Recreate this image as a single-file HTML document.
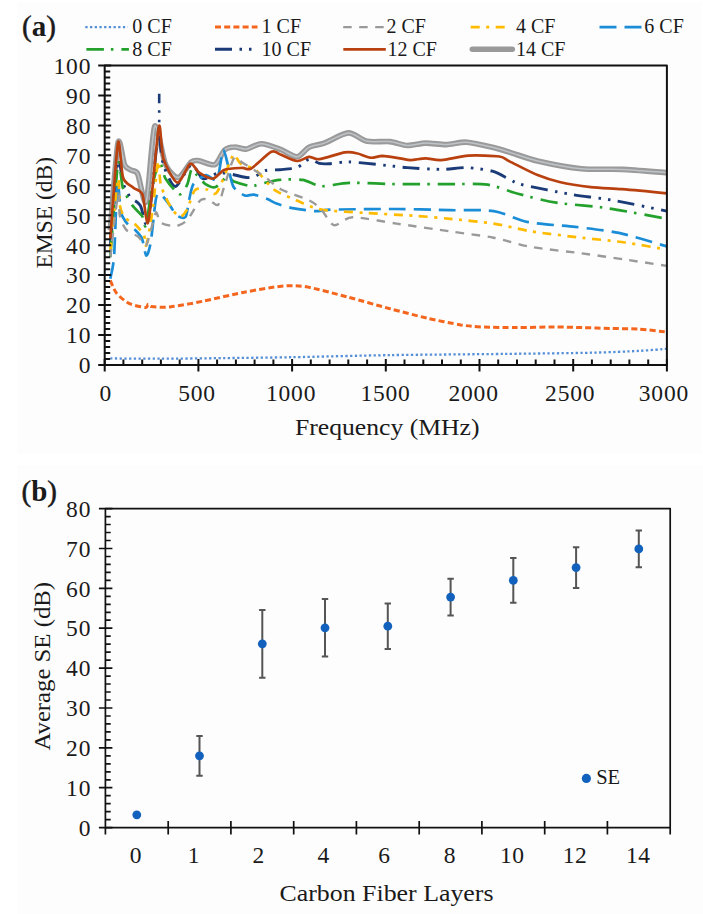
<!DOCTYPE html><html><head><meta charset="utf-8"><style>html,body{margin:0;padding:0;background:#fff;width:703px;height:914px;overflow:hidden}svg{display:block}text{font-family:"Liberation Serif", serif;fill:#1a1a1a}</style></head><body>
<svg width="703" height="914" viewBox="0 0 703 914">
<rect x="0" y="0" width="703" height="914" fill="#ffffff"/>
<rect x="17" y="2" width="685" height="452" fill="#fdfdfd"/>
<rect x="17" y="465" width="686" height="449" fill="#fdfdfd"/>
<path fill="none" stroke="#9a9a9a" stroke-width="5.6" stroke-linejoin="round" d="M110.3 230.2C111.3 218.6 116.1 151.5 118.0 142.8C119.9 134.1 122.8 161.3 124.6 164.9C126.4 168.6 129.7 169.1 131.5 170.3C133.2 171.5 135.7 169.8 137.7 173.9C139.7 178.1 144.0 207.8 146.3 201.5C148.6 195.1 152.2 131.2 154.7 126.3C157.3 121.4 162.5 157.8 165.6 164.6C168.8 171.5 174.9 177.9 178.3 177.5C181.8 177.2 188.5 164.2 191.3 161.9C194.1 159.7 196.0 160.4 199.1 160.7C202.3 161.1 211.5 166.1 214.9 164.6C218.3 163.2 222.0 152.3 224.6 150.0C227.3 147.6 231.7 147.1 234.6 147.0C237.5 146.8 242.8 149.5 246.4 149.1C249.9 148.6 256.7 143.7 261.2 143.7C265.7 143.7 275.1 147.3 279.9 149.1C284.7 150.8 293.1 157.1 297.0 156.8C300.8 156.6 305.3 149.1 309.0 147.3C312.6 145.4 319.1 145.0 324.3 143.1C329.6 141.2 342.6 133.1 348.3 132.9C354.0 132.6 361.5 140.1 367.1 141.3C372.6 142.4 384.6 141.0 389.9 141.6C395.3 142.1 402.4 145.3 407.2 145.5C411.9 145.7 420.5 143.2 425.7 143.1C430.9 143.0 440.9 144.7 446.3 144.6C451.8 144.4 460.6 141.8 466.8 142.2C472.9 142.5 486.7 145.9 492.4 147.3C498.2 148.6 504.0 150.5 510.0 152.4C516.1 154.2 528.1 158.8 537.6 161.0C547.1 163.2 570.2 167.7 581.4 168.8C592.7 169.9 610.7 168.9 622.1 169.4C633.5 169.9 660.9 172.3 666.9 172.7"/>
<path fill="none" stroke="#bfc4c8" stroke-width="1.5" stroke-linejoin="round" d="M110.3 230.2C111.3 218.6 116.1 151.5 118.0 142.8C119.9 134.1 122.8 161.3 124.6 164.9C126.4 168.6 129.7 169.1 131.5 170.3C133.2 171.5 135.7 169.8 137.7 173.9C139.7 178.1 144.0 207.8 146.3 201.5C148.6 195.1 152.2 131.2 154.7 126.3C157.3 121.4 162.5 157.8 165.6 164.6C168.8 171.5 174.9 177.9 178.3 177.5C181.8 177.2 188.5 164.2 191.3 161.9C194.1 159.7 196.0 160.4 199.1 160.7C202.3 161.1 211.5 166.1 214.9 164.6C218.3 163.2 222.0 152.3 224.6 150.0C227.3 147.6 231.7 147.1 234.6 147.0C237.5 146.8 242.8 149.5 246.4 149.1C249.9 148.6 256.7 143.7 261.2 143.7C265.7 143.7 275.1 147.3 279.9 149.1C284.7 150.8 293.1 157.1 297.0 156.8C300.8 156.6 305.3 149.1 309.0 147.3C312.6 145.4 319.1 145.0 324.3 143.1C329.6 141.2 342.6 133.1 348.3 132.9C354.0 132.6 361.5 140.1 367.1 141.3C372.6 142.4 384.6 141.0 389.9 141.6C395.3 142.1 402.4 145.3 407.2 145.5C411.9 145.7 420.5 143.2 425.7 143.1C430.9 143.0 440.9 144.7 446.3 144.6C451.8 144.4 460.6 141.8 466.8 142.2C472.9 142.5 486.7 145.9 492.4 147.3C498.2 148.6 504.0 150.5 510.0 152.4C516.1 154.2 528.1 158.8 537.6 161.0C547.1 163.2 570.2 167.7 581.4 168.8C592.7 169.9 610.7 168.9 622.1 169.4C633.5 169.9 660.9 172.3 666.9 172.7"/>
<path fill="none" stroke="#1a3a78" stroke-width="2.9" stroke-dasharray="17 7.5 2.5 7 2.5 7.5" stroke-linejoin="round" d="M110.3 245.2C111.3 234.0 116.3 169.7 118.0 161.3C119.7 153.0 121.3 177.9 122.9 182.6C124.5 187.3 127.5 193.6 129.8 196.7C132.1 199.7 138.1 201.7 140.3 205.4C142.5 209.1 144.8 225.6 146.3 224.5C147.8 223.5 150.1 208.5 151.5 197.3C153.0 186.1 156.1 149.6 157.2 140.4C158.2 131.2 158.7 127.2 159.2 128.4C159.7 129.6 160.2 144.2 160.9 149.4C161.6 154.6 162.3 162.4 164.3 167.3C166.2 172.3 171.9 186.9 175.5 186.5C179.1 186.1 187.6 165.7 191.3 164.6C195.0 163.6 199.4 177.6 203.1 178.7C206.8 179.8 214.9 173.3 218.8 172.7C222.8 172.2 229.0 173.9 232.7 174.5C236.4 175.2 243.4 177.3 246.4 177.5C249.4 177.8 252.8 177.2 255.4 176.3C257.9 175.4 262.0 171.5 265.3 170.6C268.6 169.7 275.7 170.1 279.9 169.7C284.1 169.3 293.1 169.0 297.0 167.6C300.8 166.2 306.0 159.8 309.0 159.2C311.9 158.7 316.5 162.8 319.3 163.4C322.0 164.0 325.7 163.9 329.6 163.7C333.5 163.5 342.2 161.9 348.3 161.9C354.5 162.0 369.8 163.8 375.7 164.3C381.6 164.9 388.5 165.7 392.7 166.1C396.9 166.6 400.7 167.2 407.2 167.6C413.6 168.1 433.3 169.4 441.3 169.4C449.2 169.4 459.9 167.4 466.8 167.6C473.6 167.9 486.7 169.6 492.4 171.2C498.2 172.8 506.1 177.8 510.0 179.6C514.0 181.4 514.2 182.8 522.0 184.7C529.9 186.6 556.8 191.9 568.9 194.0C581.0 196.1 599.7 198.0 612.7 200.3C625.8 202.6 659.7 209.6 666.9 211.1"/>
<path fill="none" stroke="#1a3a78" stroke-width="2.6" stroke-dasharray="9.5 7 2.5 7 2.5 7" d="M159.2 93.7V128.4"/>
<path fill="none" stroke="#24a12c" stroke-width="2.7" stroke-dasharray="17.5 7 2.5 8" stroke-linejoin="round" d="M110.3 257.2C111.3 244.8 116.3 173.6 118.0 164.3C119.7 155.1 121.0 182.5 122.9 188.0C124.8 193.5 129.9 201.7 132.4 205.4C135.0 209.1 140.2 213.2 142.0 215.8C143.8 218.5 144.5 229.5 145.9 225.4C147.3 221.4 150.7 193.6 152.5 185.3C154.3 177.0 157.9 163.7 159.6 162.8C161.4 162.0 163.0 174.5 165.6 178.7C168.3 182.9 176.6 193.5 179.5 194.3C182.4 195.0 185.7 187.7 187.3 184.4C188.9 181.1 190.2 170.9 191.5 169.7C192.8 168.5 195.2 173.5 197.1 175.4C199.0 177.3 203.0 182.5 205.5 184.1C208.0 185.7 212.8 188.1 215.6 187.1C218.5 186.1 224.4 177.7 226.9 176.9C229.3 176.2 230.8 180.2 234.0 181.4C237.2 182.6 247.6 185.8 251.1 186.2C254.5 186.6 255.9 184.9 259.7 184.1C263.5 183.3 273.8 180.5 279.5 179.9C285.3 179.3 297.0 179.1 302.6 179.9C308.2 180.7 315.1 185.8 321.3 186.2C327.6 186.6 339.4 183.2 349.4 182.9C359.5 182.6 383.1 183.9 396.5 184.1C409.9 184.3 437.9 184.0 450.1 184.1C462.2 184.2 478.4 183.4 487.6 184.7C496.7 186.0 509.7 191.6 518.9 194.0C528.0 196.4 544.6 200.8 556.3 202.7C568.0 204.5 591.8 205.9 606.6 208.1C621.3 210.2 658.9 217.4 666.9 218.8"/>
<path fill="none" stroke="#1b8dd7" stroke-width="2.7" stroke-dasharray="17 8" stroke-linejoin="round" d="M110.3 278.7C110.8 275.7 113.1 268.8 114.1 256.0C115.0 243.2 116.5 188.4 117.4 182.6C118.4 176.8 119.6 206.7 121.0 212.3C122.4 217.8 126.1 222.2 127.9 224.5C129.8 226.9 133.2 228.0 135.1 229.9C136.9 231.8 140.5 235.2 142.0 238.6C143.5 242.0 145.1 255.2 146.3 255.7C147.5 256.1 149.5 249.5 150.8 241.9C152.1 234.3 154.7 204.8 156.0 198.5C157.3 192.1 158.7 193.4 160.5 194.3C162.3 195.1 167.4 202.0 169.5 204.8C171.7 207.6 174.4 213.6 176.5 215.2C178.6 216.9 183.8 219.0 185.5 217.0C187.1 215.1 188.0 204.7 189.0 200.3C190.1 195.9 191.3 187.5 193.5 184.1C195.8 180.7 202.7 175.8 205.9 175.1C209.0 174.5 214.9 182.7 217.1 179.3C219.4 176.0 221.6 152.0 222.9 150.0C224.3 147.9 226.3 158.9 227.6 163.7C229.0 168.6 231.0 182.3 233.3 186.5C235.5 190.7 241.9 194.4 244.7 195.5C247.4 196.6 250.8 194.1 253.9 194.6C256.9 195.1 264.3 197.9 267.4 199.1C270.4 200.3 273.2 202.4 276.5 203.6C279.9 204.8 287.3 207.1 292.5 208.1C297.6 209.1 309.6 210.9 315.2 211.1C320.7 211.3 323.0 209.8 333.9 209.6C344.7 209.3 381.0 208.9 396.5 209.0C412.0 209.0 437.1 209.9 450.1 210.2C463.0 210.4 483.3 209.5 493.7 211.1C504.2 212.7 517.4 220.0 528.2 222.1C539.1 224.3 563.2 225.5 575.3 226.9C587.4 228.4 606.7 230.3 618.9 232.9C631.1 235.5 660.5 244.6 666.9 246.4"/>
<path fill="none" stroke="#ffbb00" stroke-width="2.7" stroke-dasharray="9 6.5 3 6.5" stroke-linejoin="round" d="M110.3 251.2C111.3 241.6 116.7 185.4 118.0 179.3C119.3 173.2 119.0 200.3 119.9 205.4C120.8 210.5 122.8 215.1 124.9 217.6C127.0 220.2 133.1 222.5 135.6 224.8C138.1 227.2 142.4 232.3 143.9 235.0C145.3 237.7 145.2 248.5 146.3 245.2C147.5 241.9 150.9 221.6 152.5 210.5C154.1 199.3 157.0 164.7 158.1 161.3C159.2 158.0 159.3 179.3 160.9 185.3C162.5 191.3 167.8 202.1 170.3 206.3C172.8 210.5 177.4 216.3 179.7 216.7C181.9 217.1 185.1 212.8 187.2 209.3C189.2 205.7 192.4 192.7 195.0 190.1C197.7 187.5 204.1 189.2 207.0 189.5C209.9 189.8 213.3 197.0 216.8 192.5C220.2 188.0 230.0 160.5 232.7 155.9C235.4 151.4 235.7 157.3 236.8 158.3C237.9 159.4 238.7 162.5 241.1 164.0C243.6 165.6 251.4 166.7 255.4 169.7C259.4 172.8 267.9 184.0 271.1 187.1C274.3 190.2 276.2 191.0 279.5 192.8C282.9 194.5 290.7 198.0 296.2 200.3C301.8 202.5 312.1 207.9 321.3 209.6C330.5 211.2 352.7 212.0 365.2 212.9C377.7 213.7 403.9 215.1 415.2 215.8C426.5 216.6 439.6 217.8 450.1 218.8C460.5 219.9 482.9 222.0 493.7 223.6C504.6 225.3 519.7 229.5 531.4 231.4C543.1 233.3 568.9 236.2 581.4 237.7C594.0 239.2 613.9 240.9 625.3 242.5C636.7 244.1 661.4 248.7 666.9 249.7"/>
<path fill="none" stroke="#9a9a9a" stroke-width="2.4" stroke-dasharray="8.5 7.5" stroke-linejoin="round" d="M110.3 257.2C111.3 248.8 116.7 199.8 118.0 194.3C119.3 188.8 118.8 211.4 119.9 216.1C121.0 220.9 123.8 227.2 126.3 229.9C128.7 232.7 135.8 234.7 138.4 236.8C141.1 238.9 144.1 247.2 145.9 245.5C147.8 243.8 151.1 228.7 152.5 224.2C153.9 219.8 155.1 212.5 156.2 212.3C157.4 212.1 158.3 220.9 160.9 222.7C163.5 224.6 172.4 226.4 175.9 226.0C179.4 225.7 183.9 223.5 187.2 220.0C190.4 216.6 197.3 202.9 200.3 200.3C203.3 197.6 207.3 199.7 209.6 200.3C212.0 200.9 216.1 206.8 218.1 204.8C220.1 202.8 222.5 191.5 224.6 185.3C226.8 179.1 231.6 161.3 234.0 158.3C236.4 155.3 238.5 160.3 242.6 162.8C246.8 165.4 260.2 173.7 265.3 177.2C270.4 180.7 274.8 186.1 280.7 189.2C286.5 192.3 303.5 197.6 309.0 200.3C314.4 203.0 318.0 206.2 321.3 209.6C324.7 212.9 329.7 224.1 333.9 225.1C338.1 226.2 344.3 217.5 352.6 217.3C361.0 217.1 383.5 221.8 396.5 223.6C409.5 225.5 437.1 229.5 450.1 231.4C463.0 233.3 482.9 235.6 493.7 237.7C504.6 239.8 519.7 244.9 531.4 247.0C543.1 249.1 568.9 251.6 581.4 253.3C594.0 255.0 613.9 257.9 625.3 259.6C636.7 261.3 661.4 265.0 666.9 265.9"/>
<path fill="none" stroke="#f4661d" stroke-width="3.0" stroke-dasharray="6 3.2" stroke-linejoin="round" d="M110.3 280.5C111.1 282.2 114.0 290.1 116.5 293.1C119.0 296.2 125.0 301.4 128.9 303.3C132.7 305.2 142.8 307.4 145.4 307.5C147.9 307.6 147.4 304.3 148.2 304.2C149.0 304.1 148.6 306.2 151.5 306.6C154.5 307.0 163.2 307.6 170.1 306.9C177.0 306.2 193.2 303.2 203.1 301.2C213.0 299.2 233.9 294.2 244.3 292.2C254.8 290.2 273.1 287.0 281.4 286.2C289.7 285.5 297.5 285.4 306.3 286.8C315.2 288.3 336.4 294.1 347.6 297.0C358.7 299.9 379.2 305.9 389.9 308.7C400.6 311.5 418.3 316.1 427.8 318.3C437.2 320.4 453.6 323.7 460.8 324.9C467.9 326.0 473.7 326.6 481.2 327.0C488.7 327.3 507.2 327.6 517.0 327.6C526.7 327.6 545.5 327.0 554.3 327.0C563.0 327.0 575.0 327.4 582.6 327.6C590.1 327.8 603.6 328.3 611.1 328.5C618.6 328.7 631.3 328.6 638.8 329.1C646.2 329.5 663.2 331.7 666.9 332.1"/>
<path fill="none" stroke="#548fd8" stroke-width="2.3" stroke-dasharray="2.3 2.4" stroke-linejoin="round" d="M110.3 358.4C117.1 358.5 145.8 358.8 160.9 358.7C176.1 358.7 206.4 358.3 223.9 358.1C241.4 357.9 270.0 357.6 292.1 357.2C314.2 356.8 361.5 355.6 389.9 355.1C418.4 354.7 478.6 354.2 505.5 353.9C532.5 353.6 574.2 353.1 591.9 352.7C609.7 352.3 628.8 351.4 638.8 350.9C648.8 350.4 663.2 349.1 666.9 348.8"/>
<path fill="none" stroke="#b9400f" stroke-width="2.7" stroke-linejoin="round" d="M110.3 238.6C111.3 225.8 116.3 150.9 118.0 142.8C119.7 134.7 121.0 171.8 123.1 177.8C125.1 183.8 130.8 185.5 133.4 187.7C135.9 189.9 140.5 189.5 142.4 194.3C144.2 199.0 146.2 222.9 147.4 223.3C148.7 223.7 150.0 210.2 151.5 197.3C153.1 184.3 157.4 131.4 159.0 126.3C160.6 121.2 161.1 151.4 163.5 158.9C166.0 166.5 173.9 182.0 177.4 182.6C181.0 183.2 187.3 165.1 190.2 163.7C193.1 162.4 196.1 170.7 199.1 172.7C202.2 174.7 209.4 179.1 212.8 178.7C216.2 178.3 220.7 171.2 224.6 169.7C228.6 168.3 238.9 168.1 242.4 167.9C246.0 167.8 247.2 170.7 251.1 168.5C254.9 166.4 267.5 153.7 271.3 151.8C275.1 149.8 276.5 152.9 279.9 154.2C283.3 155.4 293.1 160.7 297.0 161.0C300.8 161.4 306.0 157.1 309.0 156.8C311.9 156.6 314.5 159.8 319.3 159.2C324.1 158.6 339.9 153.2 344.9 152.4C349.9 151.6 353.4 152.5 356.8 153.3C360.2 154.0 367.0 157.4 370.4 157.7C373.9 158.1 378.5 155.9 382.4 155.9C386.4 156.0 396.3 157.8 400.0 158.3C403.8 158.9 407.1 160.1 410.5 160.1C414.0 160.1 421.6 158.3 425.7 158.3C429.8 158.3 435.6 160.5 441.3 160.1C447.0 159.8 460.7 156.1 468.4 155.6C476.2 155.2 493.8 155.7 499.4 156.5C504.9 157.3 504.9 159.2 510.0 161.6C515.1 164.1 531.0 172.4 537.6 175.1C544.2 177.8 552.4 180.4 559.5 182.0C566.6 183.6 582.5 186.1 590.8 187.1C599.2 188.1 612.0 188.4 622.1 189.2C632.3 190.0 660.9 192.8 666.9 193.4"/>
<path d="M104.7 65.5 H666.9 V365.0 H104.7 Z" fill="none" stroke="#111" stroke-width="2" stroke-linejoin="round"/>
<path d="M98.2 365.0H111.2M104.7 359.0H110.2M104.7 353.0H110.2M104.7 347.0H110.2M104.7 341.0H110.2M98.2 335.1H111.2M104.7 329.1H110.2M104.7 323.1H110.2M104.7 317.1H110.2M104.7 311.1H110.2M98.2 305.1H111.2M104.7 299.1H110.2M104.7 293.1H110.2M104.7 287.1H110.2M104.7 281.1H110.2M98.2 275.1H111.2M104.7 269.2H110.2M104.7 263.2H110.2M104.7 257.2H110.2M104.7 251.2H110.2M98.2 245.2H111.2M104.7 239.2H110.2M104.7 233.2H110.2M104.7 227.2H110.2M104.7 221.2H110.2M98.2 215.2H111.2M104.7 209.3H110.2M104.7 203.3H110.2M104.7 197.3H110.2M104.7 191.3H110.2M98.2 185.3H111.2M104.7 179.3H110.2M104.7 173.3H110.2M104.7 167.3H110.2M104.7 161.3H110.2M98.2 155.3H111.2M104.7 149.4H110.2M104.7 143.4H110.2M104.7 137.4H110.2M104.7 131.4H110.2M98.2 125.4H111.2M104.7 119.4H110.2M104.7 113.4H110.2M104.7 107.4H110.2M104.7 101.4H110.2M98.2 95.4H111.2M104.7 89.5H110.2M104.7 83.5H110.2M104.7 77.5H110.2M104.7 71.5H110.2M98.2 65.5H111.2M104.7 359.0V371.5M123.4 359.5V365.0M142.2 359.5V365.0M160.9 359.5V365.0M179.7 359.5V365.0M198.4 359.0V371.5M217.1 359.5V365.0M235.9 359.5V365.0M254.6 359.5V365.0M273.4 359.5V365.0M292.1 359.0V371.5M310.8 359.5V365.0M329.6 359.5V365.0M348.3 359.5V365.0M367.1 359.5V365.0M385.8 359.0V371.5M404.5 359.5V365.0M423.3 359.5V365.0M442.0 359.5V365.0M460.8 359.5V365.0M479.5 359.0V371.5M498.2 359.5V365.0M517.0 359.5V365.0M535.7 359.5V365.0M554.5 359.5V365.0M573.2 359.0V371.5M591.9 359.5V365.0M610.7 359.5V365.0M629.4 359.5V365.0M648.2 359.5V365.0M666.9 359.0V371.5" stroke="#111" stroke-width="2" fill="none"/>
<text x="91.2" y="373.3" font-size="23.5" letter-spacing="0.8" text-anchor="end">0</text>
<text x="91.2" y="343.4" font-size="23.5" letter-spacing="0.8" text-anchor="end">10</text>
<text x="91.2" y="313.4" font-size="23.5" letter-spacing="0.8" text-anchor="end">20</text>
<text x="91.2" y="283.4" font-size="23.5" letter-spacing="0.8" text-anchor="end">30</text>
<text x="91.2" y="253.5" font-size="23.5" letter-spacing="0.8" text-anchor="end">40</text>
<text x="91.2" y="223.6" font-size="23.5" letter-spacing="0.8" text-anchor="end">50</text>
<text x="91.2" y="193.6" font-size="23.5" letter-spacing="0.8" text-anchor="end">60</text>
<text x="91.2" y="163.7" font-size="23.5" letter-spacing="0.8" text-anchor="end">70</text>
<text x="91.2" y="133.7" font-size="23.5" letter-spacing="0.8" text-anchor="end">80</text>
<text x="91.2" y="103.7" font-size="23.5" letter-spacing="0.8" text-anchor="end">90</text>
<text x="91.2" y="73.8" font-size="23.5" letter-spacing="0.8" text-anchor="end">100</text>
<text x="105.9" y="400.7" font-size="23.5" letter-spacing="0.8" text-anchor="middle">0</text>
<text x="197.1" y="400.7" font-size="23.5" letter-spacing="0.8" text-anchor="middle">500</text>
<text x="291.1" y="400.7" font-size="23.5" letter-spacing="0.8" text-anchor="middle">1000</text>
<text x="385.5" y="400.7" font-size="23.5" letter-spacing="0.8" text-anchor="middle">1500</text>
<text x="473.6" y="400.7" font-size="23.5" letter-spacing="0.8" text-anchor="middle">2000</text>
<text x="570.2" y="400.7" font-size="23.5" letter-spacing="0.8" text-anchor="middle">2500</text>
<text x="663.9" y="400.7" font-size="23.5" letter-spacing="0.8" text-anchor="middle">3000</text>
<text x="-55.8" y="0" font-size="23.5" textLength="111.5" lengthAdjust="spacingAndGlyphs" transform="translate(51.5 212.7) rotate(-90)">EMSE (dB)</text>
<text x="295" y="435" font-size="24" textLength="184.5" lengthAdjust="spacingAndGlyphs">Frequency (MHz)</text>
<text x="22" y="36.3" font-size="29" stroke="#1a1a1a" stroke-width="0.5">(<tspan font-weight="bold" stroke-width="0">a</tspan>)</text>
<line x1="85.3" y1="27.1" x2="127.8" y2="27.1" stroke="#548fd8" stroke-width="2.3" stroke-dasharray="2.3 2.4"/>
<text x="132.3" y="33.3" font-size="20">0 CF</text>
<line x1="215.0" y1="27.1" x2="257.5" y2="27.1" stroke="#f4661d" stroke-width="3.0" stroke-dasharray="6 3.2"/>
<text x="261.6" y="33.3" font-size="20">1 CF</text>
<line x1="343.2" y1="27.1" x2="385.7" y2="27.1" stroke="#9a9a9a" stroke-width="2.4" stroke-dasharray="8.5 7.5"/>
<text x="386.5" y="33.3" font-size="20">2 CF</text>
<line x1="470.7" y1="27.1" x2="506.2" y2="27.1" stroke="#ffbb00" stroke-width="2.7" stroke-dasharray="9 6.5 3 6.5"/>
<text x="515.9" y="33.3" font-size="20">4 CF</text>
<line x1="599.5" y1="27.1" x2="642.0" y2="27.1" stroke="#1b8dd7" stroke-width="2.7" stroke-dasharray="17 8"/>
<text x="644.3" y="33.3" font-size="20">6 CF</text>
<line x1="86.4" y1="49.3" x2="128.9" y2="49.3" stroke="#24a12c" stroke-width="2.7" stroke-dasharray="17.5 7 2.5 8"/>
<text x="132.3" y="55.5" font-size="20">8 CF</text>
<line x1="215.0" y1="49.3" x2="257.5" y2="49.3" stroke="#1a3a78" stroke-width="2.9" stroke-dasharray="17 7.5 2.5 7 2.5 7.5"/>
<text x="261.6" y="55.5" font-size="20">10 CF</text>
<line x1="343.3" y1="49.3" x2="385.8" y2="49.3" stroke="#b9400f" stroke-width="2.7"/>
<text x="387.4" y="55.5" font-size="20">12 CF</text>
<line x1="472.3" y1="49.3" x2="512.3" y2="49.3" stroke="#9a9a9a" stroke-width="5.5" stroke-linecap="round"/>
<text x="515.9" y="55.5" font-size="20">14 CF</text>
<path d="M105.4 508.6 H670.2 V827.6 H105.4 Z" fill="none" stroke="#111" stroke-width="1.7" stroke-linejoin="round"/>
<path d="M98.9 827.6H112.4M105.4 819.6H110.7M105.4 811.6H110.7M105.4 803.7H110.7M105.4 795.7H110.7M98.9 787.7H112.4M105.4 779.8H110.7M105.4 771.8H110.7M105.4 763.8H110.7M105.4 755.8H110.7M98.9 747.9H112.4M105.4 739.9H110.7M105.4 731.9H110.7M105.4 723.9H110.7M105.4 716.0H110.7M98.9 708.0H112.4M105.4 700.0H110.7M105.4 692.0H110.7M105.4 684.0H110.7M105.4 676.1H110.7M98.9 668.1H112.4M105.4 660.1H110.7M105.4 652.2H110.7M105.4 644.2H110.7M105.4 636.2H110.7M98.9 628.2H112.4M105.4 620.2H110.7M105.4 612.3H110.7M105.4 604.3H110.7M105.4 596.3H110.7M98.9 588.4H112.4M105.4 580.4H110.7M105.4 572.4H110.7M105.4 564.4H110.7M105.4 556.5H110.7M98.9 548.5H112.4M105.4 540.5H110.7M105.4 532.5H110.7M105.4 524.5H110.7M105.4 516.6H110.7M98.9 508.6H112.4M105.4 827.6V834.6M168.2 821.1V834.6M230.9 821.1V834.6M293.7 821.1V834.6M356.4 821.1V834.6M419.2 821.1V834.6M481.9 821.1V834.6M544.7 821.1V834.6M607.4 821.1V834.6M670.2 827.6V834.6" stroke="#111" stroke-width="1.7" fill="none"/>
<text x="91.2" y="835.8" font-size="23.5" letter-spacing="0.8" text-anchor="end">0</text>
<text x="91.2" y="795.9" font-size="23.5" letter-spacing="0.8" text-anchor="end">10</text>
<text x="91.2" y="756.1" font-size="23.5" letter-spacing="0.8" text-anchor="end">20</text>
<text x="91.2" y="716.2" font-size="23.5" letter-spacing="0.8" text-anchor="end">30</text>
<text x="91.2" y="676.3" font-size="23.5" letter-spacing="0.8" text-anchor="end">40</text>
<text x="91.2" y="636.4" font-size="23.5" letter-spacing="0.8" text-anchor="end">50</text>
<text x="91.2" y="596.6" font-size="23.5" letter-spacing="0.8" text-anchor="end">60</text>
<text x="91.2" y="556.7" font-size="23.5" letter-spacing="0.8" text-anchor="end">70</text>
<text x="91.2" y="516.8" font-size="23.5" letter-spacing="0.8" text-anchor="end">80</text>
<text x="135.9" y="863.2" font-size="23.5" letter-spacing="0.6" text-anchor="middle">0</text>
<text x="194.0" y="863.2" font-size="23.5" letter-spacing="0.6" text-anchor="middle">1</text>
<text x="258.8" y="863.2" font-size="23.5" letter-spacing="0.6" text-anchor="middle">2</text>
<text x="323.7" y="863.2" font-size="23.5" letter-spacing="0.6" text-anchor="middle">4</text>
<text x="384.5" y="863.2" font-size="23.5" letter-spacing="0.6" text-anchor="middle">6</text>
<text x="450.0" y="863.2" font-size="23.5" letter-spacing="0.6" text-anchor="middle">8</text>
<text x="512.3" y="863.2" font-size="23.5" letter-spacing="0.6" text-anchor="middle">10</text>
<text x="575.1" y="863.2" font-size="23.5" letter-spacing="0.6" text-anchor="middle">12</text>
<text x="638.3" y="863.2" font-size="23.5" letter-spacing="0.6" text-anchor="middle">14</text>
<text x="-84.5" y="0" font-size="23.5" textLength="168.5" lengthAdjust="spacingAndGlyphs" transform="translate(50.3 666) rotate(-90)">Average SE (dB)</text>
<text x="279.5" y="900.9" font-size="24" textLength="214" lengthAdjust="spacingAndGlyphs">Carbon Fiber Layers</text>
<text x="21.5" y="501.4" font-size="29" stroke="#1a1a1a" stroke-width="0.5">(<tspan font-weight="bold" stroke-width="0">b</tspan>)</text>
<path d="M199.5 735.9V775.8M196.3 735.9H202.7M196.3 775.8H202.7M262.3 609.9V677.7M259.1 609.9H265.5M259.1 677.7H265.5M325.0 599.1V656.5M321.8 599.1H328.2M321.8 656.5H328.2M387.8 603.5V649.0M384.6 603.5H391.0M384.6 649.0H391.0M450.6 578.8V615.5M447.4 578.8H453.8M447.4 615.5H453.8M513.3 558.0V602.7M510.1 558.0H516.5M510.1 602.7H516.5M576.1 547.3V588.0M572.9 547.3H579.3M572.9 588.0H579.3M638.8 530.5V567.2M635.6 530.5H642.0M635.6 567.2H642.0" stroke="#555" stroke-width="2" fill="none"/>
<circle cx="136.8" cy="814.8" r="4.4" fill="#1262bd"/>
<circle cx="199.5" cy="755.8" r="4.4" fill="#1262bd"/>
<circle cx="262.3" cy="643.8" r="4.4" fill="#1262bd"/>
<circle cx="325.0" cy="627.8" r="4.4" fill="#1262bd"/>
<circle cx="387.8" cy="626.2" r="4.4" fill="#1262bd"/>
<circle cx="450.6" cy="597.1" r="4.4" fill="#1262bd"/>
<circle cx="513.3" cy="580.4" r="4.4" fill="#1262bd"/>
<circle cx="576.1" cy="567.6" r="4.4" fill="#1262bd"/>
<circle cx="638.8" cy="548.9" r="4.4" fill="#1262bd"/>
<circle cx="586.4" cy="778.4" r="4.6" fill="#1262bd"/>
<text x="596.2" y="783.9" font-size="20.5">SE</text>
</svg></body></html>
